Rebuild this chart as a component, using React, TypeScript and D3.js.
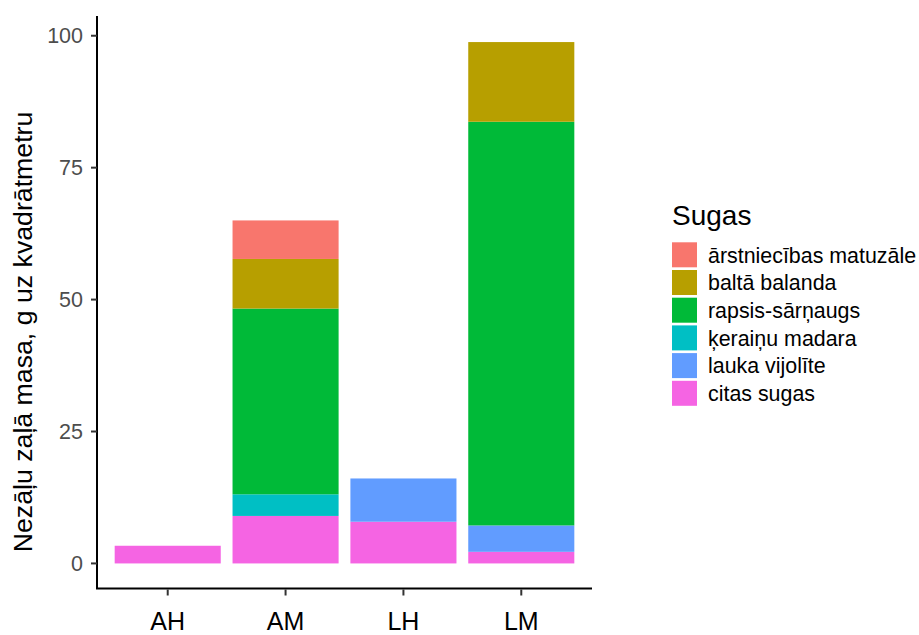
import React from "react";
import * as d3 from "d3";

const categories = ["AH", "AM", "LH", "LM"];
const species = [
  "ārstniecības matuzāle",
  "baltā balanda",
  "rapsis-sārņaugs",
  "ķeraiņu madara",
  "lauka vijolīte",
  "citas sugas",
];
const colors = ["#F8766D", "#B79F00", "#00BA38", "#00BFC4", "#619CFF", "#F564E3"];

// values per category (AH, AM, LH, LM)
const arstniecibas = [0, 7.3, 0, 0];
const baltaBalanda = [0, 9.4, 0, 15.1];
const rapsis = [0, 35.2, 0, 76.5];
const keraina = [0, 4.1, 0, 0];
const laukaVijolite = [0, 0, 8.2, 5.0];
const citasSugas = [3.35, 9.0, 7.9, 2.2];

const yTicks = [0, 25, 50, 75, 100];

const seriesValues = [arstniecibas, baltaBalanda, rapsis, keraina, laukaVijolite, citasSugas];

const FONT = "'Liberation Sans', Arial, Helvetica, sans-serif";

export default function App() {
  const width = 919;
  const height = 635;
  const left = 97;
  const right = 592;
  const top = 16;
  const bottom = 589.5;

  const rows = categories.map((c, i) => {
    const r: Record<string, any> = { cat: c };
    species.forEach((s, j) => (r[s] = seriesValues[j][i]));
    return r;
  });
  // stack from bottom: citas sugas first
  const stackKeys = [...species].reverse();
  const stacked = d3.stack().keys(stackKeys)(rows as any);

  const maxTotal = d3.max(rows, (r) => d3.sum(species, (s) => r[s])) as number;
  const pad = maxTotal * 0.05;

  const x = d3
    .scaleBand()
    .domain(categories)
    .range([left, right])
    .paddingInner(0.1)
    .paddingOuter(0.15);
  const y = d3.scaleLinear().domain([-pad, maxTotal + pad]).range([bottom, top]);

  const legendX = 672;
  const legendTop = 242.3;
  const keyPitch = 27.7;
  const keySize = 25;

  return (
    <svg width={width} height={height} style={{ position: "absolute", left: 0, top: 0, background: "#fff" }}>
      <rect width={width} height={height} fill="#fff" />
      {stacked.map((layer) => {
        const idx = species.indexOf(layer.key);
        return (
          <g key={layer.key} fill={colors[idx]}>
            {layer.map((d, i) =>
              d[1] - d[0] > 0 ? (
                <rect
                  key={i}
                  x={x(categories[i])}
                  width={x.bandwidth()}
                  y={y(d[1])}
                  height={y(d[0]) - y(d[1])}
                />
              ) : null
            )}
          </g>
        );
      })}
      {/* axes */}
      <line x1={left} x2={left} y1={top} y2={bottom - 0.5} stroke="#000" strokeWidth={2} />
      <line x1={left - 1} x2={right} y1={bottom - 1} y2={bottom - 1} stroke="#000" strokeWidth={2} />
      {yTicks.map((t) => (
        <g key={t}>
          <line x1={left - 6} x2={left} y1={y(t)} y2={y(t)} stroke="#333" strokeWidth={2} />
          <text
            x={left - 14}
            y={y(t)}
            dy="0.36em"
            textAnchor="end"
            fontFamily={FONT}
            fontSize={21.5}
            fill="#4D4D4D"
          >
            {t}
          </text>
        </g>
      ))}
      {categories.map((c) => {
        const cx = (x(c) as number) + x.bandwidth() / 2;
        return (
          <g key={c}>
            <line x1={cx} x2={cx} y1={bottom} y2={bottom + 6} stroke="#333" strokeWidth={2} />
            <text x={cx} y={629.5} textAnchor="middle" fontFamily={FONT} fontSize={25} fill="#000">
              {c}
            </text>
          </g>
        );
      })}
      <text
        transform={`translate(32,332) rotate(-90)`}
        textAnchor="middle"
        fontFamily={FONT}
        fontSize={26.7}
        fill="#000"
      >
        Nezāļu zaļā masa, g uz kvadrātmetru
      </text>
      {/* legend */}
      <text x={legendX} y={225} fontFamily={FONT} fontSize={28} fill="#000">
        Sugas
      </text>
      {species.map((s, i) => {
        const ky = legendTop + i * keyPitch;
        return (
          <g key={s}>
            <rect x={legendX} y={ky} width={keySize} height={keySize} fill={colors[i]} />
            <text
              x={legendX + 36}
              y={ky + keySize / 2}
              dy="0.36em"
              fontFamily={FONT}
              fontSize={21.4}
              fill="#000"
            >
              {s}
            </text>
          </g>
        );
      })}
    </svg>
  );
}
